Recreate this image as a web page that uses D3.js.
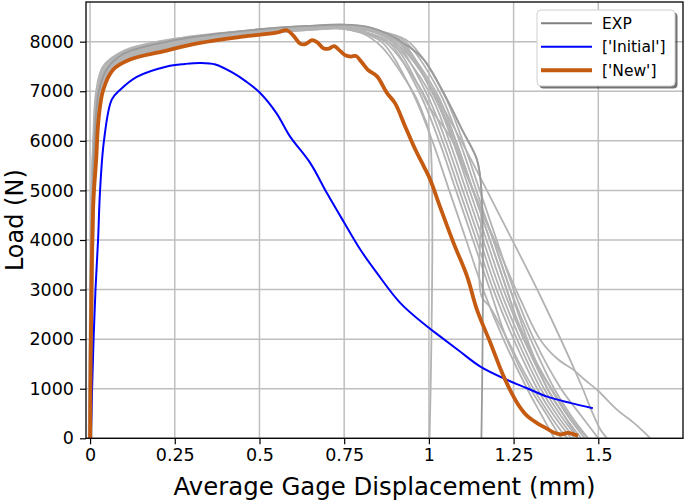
<!DOCTYPE html>
<html>
<head>
<meta charset="utf-8">
<script src="https://cdn.jsdelivr.net/npm/d3@7"></script>
<style>
  html, body { margin: 0; padding: 0; background: #fff; }
  text { font-family: "DejaVu Sans", sans-serif; }
</style>
</head>
<body>
<svg id="chart" width="685" height="502"></svg>
<script>
// ---------------- DATA ----------------
const xTickValues = [0, 0.25, 0.5, 0.75, 1, 1.25, 1.5];
const xTickLabels = ["0", "0.25", "0.5", "0.75", "1", "1.25", "1.5"];
const yTickValues = [0, 1000, 2000, 3000, 4000, 5000, 6000, 7000, 8000];
const legendLabels = ["EXP", "['Initial']", "['New']"];

// Experimental curves [displacement mm, load N]
const exp01 = [[0.001,0],[0.004,3000],[0.008,5000],[0.013,6000],[0.026,7000],[0.05,7450],[0.1,7760],[0.25,8030],[0.5,8250],[0.65,8320],[0.75,8345],[0.82,8300],[0.88,8150],[0.93,7950],[0.985,7640],[1.054,6830],[1.1,6200],[1.142,5620],[1.155,5010],[1.155,0]];
const exp02 = [[0.002,0],[0.005,3000],[0.009,5000],[0.015,6000],[0.028,7000],[0.052,7430],[0.1,7740],[0.25,8010],[0.5,8240],[0.65,8310],[0.75,8335],[0.82,8295],[0.88,8145],[0.93,7945],[0.985,7635],[1.054,6825],[1.1,6195],[1.142,5615],[1.155,5000],[1.155,2870],[1.18,2650],[1.22,2150],[1.28,1350],[1.34,650],[1.39,150],[1.41,0]];
const exp03 = [[-0.002,0],[0.002,3000],[0.006,5000],[0.011,6000],[0.022,7000],[0.042,7420],[0.1,7700],[0.25,7980],[0.5,8200],[0.65,8270],[0.72,8280],[0.8,8180],[0.86,7900],[0.92,7350],[0.96,6900],[0.985,6500],[1.002,6150],[1.002,0]];
const exp04 = [[0,0],[0.003,3000],[0.007,5000],[0.012,6000],[0.024,7000],[0.045,7420],[0.1,7680],[0.25,7950],[0.5,8190],[0.65,8270],[0.74,8270],[0.8,8180],[0.86,8000],[0.95,7000],[1.01,6000],[1.06,5000],[1.11,4000],[1.16,3000],[1.22,2000],[1.29,1000],[1.33,500],[1.37,0]];
const exp05 = [[0.003,0],[0.006,3000],[0.011,5000],[0.017,6000],[0.03,7000],[0.055,7400],[0.1,7620],[0.25,7900],[0.5,8160],[0.65,8250],[0.76,8280],[0.82,8180],[0.88,8000],[0.97,7000],[1.03,6000],[1.08,5000],[1.13,4000],[1.18,3000],[1.23,2000],[1.3,1000],[1.35,450],[1.39,0]];
const exp06 = [[-0.003,0],[0.001,3000],[0.005,5000],[0.01,6000],[0.02,7000],[0.04,7480],[0.1,7800],[0.25,8050],[0.5,8230],[0.65,8300],[0.75,8300],[0.81,8200],[0.87,8000],[0.98,7000],[1.04,6000],[1.09,5000],[1.14,4000],[1.19,3000],[1.25,2000],[1.32,1000],[1.37,450],[1.42,0]];
const exp07 = [[0.004,0],[0.007,3000],[0.012,5000],[0.019,6000],[0.034,7000],[0.06,7380],[0.1,7600],[0.25,7880],[0.5,8150],[0.65,8240],[0.77,8270],[0.84,8190],[0.9,8000],[0.99,7000],[1.05,6000],[1.1,5000],[1.15,4000],[1.2,3000],[1.26,2000],[1.33,1000],[1.38,450],[1.43,0]];
const exp08 = [[0.001,0],[0.005,3000],[0.01,5000],[0.016,6000],[0.029,7000],[0.053,7410],[0.1,7720],[0.25,7990],[0.5,8210],[0.65,8290],[0.76,8310],[0.83,8210],[0.89,8000],[1.0,7000],[1.06,6000],[1.11,5000],[1.16,4000],[1.21,3000],[1.27,2000],[1.34,1000],[1.39,450],[1.44,0]];
const exp09 = [[-0.001,0],[0.003,3000],[0.008,5000],[0.014,6000],[0.025,7000],[0.047,7440],[0.1,7740],[0.25,8000],[0.5,8220],[0.65,8300],[0.78,8320],[0.85,8220],[0.92,8000],[1.01,7000],[1.07,6000],[1.12,5000],[1.17,4000],[1.22,3000],[1.28,2000],[1.35,1000],[1.4,450],[1.45,0]];
const exp10 = [[0.002,0],[0.006,3000],[0.01,5000],[0.017,6000],[0.031,7000],[0.056,7400],[0.1,7650],[0.25,7930],[0.5,8180],[0.65,8260],[0.77,8290],[0.84,8200],[0.91,8000],[1.02,7000],[1.08,6000],[1.13,5000],[1.18,4000],[1.23,3000],[1.28,2000],[1.36,1000],[1.41,450],[1.46,0]];
const exp11 = [[0,0],[0.004,3000],[0.009,5000],[0.015,6000],[0.027,7000],[0.05,7430],[0.1,7710],[0.25,7970],[0.5,8200],[0.65,8280],[0.79,8300],[0.86,8200],[0.93,8000],[1.03,7000],[1.09,6000],[1.14,5000],[1.19,4000],[1.24,3000],[1.3,2000],[1.37,1000],[1.42,450],[1.47,0]];
const exp12 = [[0.003,0],[0.007,3000],[0.012,5000],[0.018,6000],[0.033,7000],[0.058,7390],[0.1,7630],[0.25,7910],[0.5,8170],[0.65,8250],[0.8,8280],[0.87,8190],[0.94,8000],[1.04,7000],[1.1,6000],[1.15,5000],[1.2,4000],[1.25,3000],[1.31,2000],[1.39,1000],[1.45,450],[1.5,0]];
const exp13 = [[-0.002,0],[0.002,3000],[0.007,5000],[0.012,6000],[0.023,7000],[0.044,7460],[0.1,7780],[0.25,8040],[0.5,8240],[0.65,8310],[0.78,8300],[0.86,8150],[0.93,7800],[1.0,7150],[1.093,6030],[1.21,4480],[1.329,2870],[1.448,1100],[1.48,560],[1.507,168],[1.526,0]];
const exp14 = [[0.001,0],[0.005,3000],[0.009,5000],[0.016,6000],[0.03,7000],[0.054,7410],[0.1,7690],[0.25,7960],[0.5,8200],[0.65,8280],[0.78,8300],[0.86,8180],[0.93,7900],[1.0,7100],[1.05,6400],[1.1,5500],[1.2,3900],[1.27,2800],[1.329,1985],[1.38,1600],[1.427,1380],[1.46,1180],[1.497,975],[1.556,572],[1.605,310],[1.654,0]];
const exp15 = [[0.005,0],[0.008,3000],[0.013,5000],[0.02,6000],[0.036,7000],[0.062,7380],[0.1,7590],[0.25,7870],[0.5,8140],[0.65,8240],[0.75,8260],[0.82,8150],[0.9,7900],[0.97,7100],[1.0,6700],[1.07,6000],[1.13,5000],[1.19,4000],[1.24,3000],[1.29,2000],[1.35,1000],[1.4,450],[1.44,0]];
const exp16 = [[-0.004,0],[0,3000],[0.004,5000],[0.009,6000],[0.018,7000],[0.038,7500],[0.1,7820],[0.25,8060],[0.5,8250],[0.65,8320],[0.76,8330],[0.83,8250],[0.9,8050],[1.0,7150],[1.06,6300],[1.11,5400],[1.16,4400],[1.21,3400],[1.26,2400],[1.32,1500],[1.38,800],[1.43,300],[1.47,0]];

// Simulation: ['Initial']
const initialCurve = [[0.002,0],[0.006,1000],[0.0103,2000],[0.016,3000],[0.0236,4000],[0.0295,5000],[0.041,6000],[0.064,6830],[0.089,7030],[0.138,7290],[0.227,7500],[0.28,7550],[0.325,7570],[0.37,7540],[0.422,7370],[0.46,7200],[0.502,6966],[0.55,6560],[0.59,6090],[0.65,5550],[0.699,4946],[0.748,4373],[0.798,3802],[0.847,3331],[0.916,2726],[0.995,2253],[1.034,2051],[1.09,1760],[1.152,1446],[1.231,1177],[1.29,1010],[1.349,840],[1.42,710],[1.484,606]];

// Simulation: ['New']
const newCurve = [[0,0],[0.004,3000],[0.01,4800],[0.018,5610],[0.025,6430],[0.039,7030],[0.068,7435],[0.118,7640],[0.216,7806],[0.325,7975],[0.45,8100],[0.55,8180],[0.581,8230],[0.60,8120],[0.62,7960],[0.635,7950],[0.655,8030],[0.67,7990],[0.69,7860],[0.705,7860],[0.72,7910],[0.74,7800],[0.755,7720],[0.77,7700],[0.785,7710],[0.80,7600],[0.82,7430],[0.847,7300],[0.876,6966],[0.9,6760],[0.93,6290],[0.96,5824],[0.985,5484],[1.004,5215],[1.034,4650],[1.073,3937],[1.113,3263],[1.142,2590],[1.182,1918],[1.221,1244],[1.261,707],[1.29,450],[1.32,303],[1.35,190],[1.37,110],[1.39,80],[1.41,110],[1.43,75],[1.44,55]];

const expCurves = [exp02, exp03, exp04, exp05, exp06, exp07, exp08, exp09, exp10, exp11, exp12, exp13, exp14, exp15, exp16];
const expTopCurve = exp01;

// ---------------- CHART ----------------
const svg = d3.select("#chart");
const L = 86, R = 683, T = 2, B = 438.3;

const x = d3.scaleLinear().domain([-0.012, 1.75]).range([L, R]);
const y = d3.scaleLinear().domain([0, 8800]).range([B, T]);

svg.append("defs").append("clipPath").attr("id", "clip")
  .append("rect").attr("x", L).attr("y", T).attr("width", R - L).attr("height", B - T);

// grid
const grid = svg.append("g");
grid.selectAll("line.gx").data(xTickValues).join("line")
  .attr("x1", d => x(d)).attr("x2", d => x(d)).attr("y1", T).attr("y2", B)
  .attr("stroke", "#bfbfbf").attr("stroke-width", 1.5);
grid.selectAll("line.gy").data(yTickValues).join("line")
  .attr("x1", L).attr("x2", R).attr("y1", d => y(d)).attr("y2", d => y(d))
  .attr("stroke", "#bfbfbf").attr("stroke-width", 1.5);

const line = d3.line().x(d => x(d[0])).y(d => y(d[1])).curve(d3.curveCatmullRom.alpha(0.5));
const plot = svg.append("g").attr("clip-path", "url(#clip)");

plot.selectAll("path.exp").data(expCurves).join("path")
  .attr("d", line).attr("fill", "none").attr("stroke", "#b3b3b3")
  .attr("stroke-width", 1.8).attr("stroke-linejoin", "round");
plot.append("path").datum(expTopCurve).attr("d", line).attr("fill", "none")
  .attr("stroke", "#9a9a9a").attr("stroke-width", 1.8);

plot.append("path").datum(initialCurve).attr("d", line).attr("fill", "none")
  .attr("stroke", "#0000ff").attr("stroke-width", 2);
plot.append("path").datum(newCurve).attr("d", line).attr("fill", "none")
  .attr("stroke", "#c55a11").attr("stroke-width", 3.8).attr("stroke-linejoin", "round");

// axes
const xAxis = d3.axisBottom(x).tickValues(xTickValues)
  .tickFormat((d, i) => xTickLabels[i]).tickSize(6).tickPadding(4).tickSizeOuter(0);
const yAxis = d3.axisLeft(y).tickValues(yTickValues)
  .tickFormat(d3.format("d")).tickSize(6).tickPadding(6).tickSizeOuter(0);

const gx = svg.append("g").attr("transform", `translate(0,${B})`).call(xAxis);
const gy = svg.append("g").attr("transform", `translate(${L},0)`).call(yAxis);
[gx, gy].forEach(g => {
  g.select(".domain").remove();
  g.selectAll(".tick line").attr("stroke", "#000").attr("stroke-width", 1.2);
  g.selectAll(".tick text").attr("fill", "#000").style("font-size", "17.5px")
    .style("font-family", "DejaVu Sans");
});

// spines
svg.append("rect").attr("x", L).attr("y", T).attr("width", R - L).attr("height", B - T)
  .attr("fill", "none").attr("stroke", "#000").attr("stroke-width", 1.3);

// axis labels
svg.append("text").attr("x", (L + R) / 2).attr("y", 495).attr("text-anchor", "middle")
  .style("font-size", "24.4px").attr("fill", "#000").text("Average Gage Displacement (mm)");
svg.append("text").attr("transform", `translate(23,${(T + B) / 2}) rotate(-90)`)
  .attr("text-anchor", "middle").style("font-size", "24px").attr("fill", "#000").text("Load (N)");

// legend
const lg = svg.append("g");
const lx = 537, ly = 10, lw = 138, lh = 76;
lg.append("rect").attr("x", lx + 2.5).attr("y", ly + 2.5).attr("width", lw).attr("height", lh)
  .attr("rx", 4).attr("fill", "#000").attr("opacity", 0.55);
lg.append("rect").attr("x", lx).attr("y", ly).attr("width", lw).attr("height", lh)
  .attr("rx", 4).attr("fill", "#fff").attr("stroke", "#d0d0d0").attr("stroke-width", 1);
const legendStyles = [
  {color: "#808080", width: 2},
  {color: "#0000ff", width: 2},
  {color: "#c55a11", width: 4}
];
legendLabels.forEach((lab, i) => {
  const yy = ly + 13.3 + i * 23.5;
  lg.append("line").attr("x1", lx + 4).attr("x2", lx + 55).attr("y1", yy).attr("y2", yy)
    .attr("stroke", legendStyles[i].color).attr("stroke-width", legendStyles[i].width);
  lg.append("text").attr("x", lx + 65).attr("y", yy + 5.6).style("font-size", "15.5px")
    .attr("fill", "#000").text(lab);
});
</script>
</body>
</html>
